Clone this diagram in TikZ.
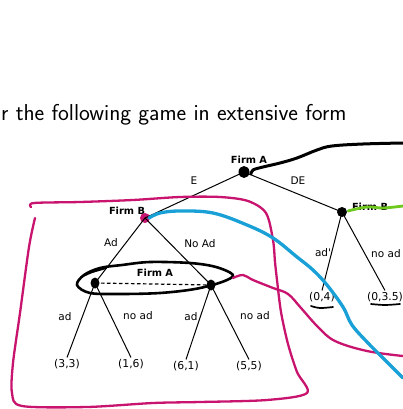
\documentclass[tikz,border=0pt]{standalone}
\usepackage{fontspec}
\usetikzlibrary{shapes.geometric}
\newfontfamily\lab{DejaVu Sans}
\definecolor{mag}{RGB}{200,20,110}
\definecolor{sky}{RGB}{25,160,215}
\definecolor{lime}{RGB}{110,200,30}
\begin{document}
\begin{tikzpicture}[x=1pt,y=-1pt,
  lbl/.style={font=\lab\fontsize{10.5}{12}\selectfont, inner sep=0pt},
  firm/.style={font=\lab\bfseries\fontsize{9.8}{12}\selectfont, inner sep=0pt},
  dot/.style={ellipse, fill=black, inner sep=0pt, minimum width=10pt, minimum height=10pt},
  leaf/.style={font=\lab\fontsize{10.8}{12}\selectfont, inner sep=1.5pt},
  br/.style={line width=1pt},
  hand/.style={line cap=round, line join=round}]
\useasboundingbox (0,0) rectangle (403,409);
\fill[white] (0,0) rectangle (403,409);
% title
\node[anchor=base west, inner sep=0pt, font=\sffamily\fontsize{23}{26}\selectfont] (title) at (1,121) {r the following game in extensive form};
% nodes
\node[dot, minimum width=11pt, minimum height=12pt] (rootA) at (244,172) {};
\node[dot, fill=mag] (B1) at (145,218) {};
\node[dot] (B2) at (342,212) {};
\node[dot, minimum width=9pt, minimum height=11pt] (A1) at (95,283) {};
\node[dot, minimum width=9pt, minimum height=11pt] (A2) at (211,285) {};
% leaves
\node[leaf] (l33) at (67,364) {(3,3)};
\node[leaf] (l16) at (131,364) {(1,6)};
\node[leaf] (l61) at (186,366) {(6,1)};
\node[leaf] (l55) at (249,366) {(5,5)};
\node[leaf] (l04) at (322,297) {(0,4)};
\node[leaf] (l035) at (385,297) {(0,3.5)};
% branches
\draw[br] (rootA.center) -- (B1.center);
\draw[br] (rootA.center) -- (B2.center);
\draw[br] (B1.center) -- (A1.center);
\draw[br] (B1.center) -- (A2.center);
\draw[br] (A1.center) -- (l33.north);
\draw[br] (A1.center) -- (l16.north);
\draw[br] (A2.center) -- (l61.north);
\draw[br] (A2.center) -- (l55.north);
\draw[br] (B2.center) -- (l04.north);
\draw[br] (B2.center) -- (l035.north);
\draw[line width=1.2pt, dash pattern=on 3.5pt off 2.5pt] (A1.center) -- (A2.center);
% labels
\node[firm] (fA) at (249,160) {Firm A};
\node[firm] (fB1) at (127,211) {Firm B};
\node[firm] (fB2) at (370,207) {Firm B};
\node[firm] (fA2) at (155,273) {Firm A};
\node[lbl] (tE) at (194,181) {E};
\node[lbl] (tDE) at (298,181) {DE};
\node[lbl] (tAd) at (111,243) {Ad};
\node[lbl] (tNoAd) at (200,244) {No Ad};
\node[lbl] (ta1) at (65,317) {ad};
\node[lbl] (tn1) at (138,316) {no ad};
\node[lbl] (ta2) at (191,317) {ad};
\node[lbl] (tn2) at (255,316) {no ad};
\node[lbl] (ta3) at (323,253) {ad'};
\node[lbl] (tn3) at (386,254) {no ad};
% hand-drawn strokes
\draw[hand, line width=3pt] plot[smooth, tension=0.6] coordinates {(251,174) (253,170) (263,167) (280,163) (297,158) (317,150) (332,146) (363,144) (403,143)};
\draw[hand, line width=2.8pt, lime] plot[smooth, tension=0.6] coordinates {(348,211) (367,207) (383,208) (403,206)};
\draw[hand, line width=2.6pt] plot[smooth cycle, tension=0.55] coordinates {(77,285) (84,275) (100,268) (122,265) (150,262) (190,263) (216,267) (233,275) (222,282) (195,289) (160,293) (120,294) (90,293)};
\draw[hand, line width=2.2pt] plot[smooth, tension=0.6] coordinates {(83,276) (92,272) (106,268)};
\draw[hand, line width=2.3pt, mag] plot[smooth, tension=0.5] coordinates {(31,207) (34,203) (80,202) (133,200) (180,197) (220,197) (248,201) (266,213) (273,240) (275,262) (277,280) (281,312) (288,344) (297,372) (307,393) (267,400) (200,402) (153,403) (87,407) (22,406) (12,393) (13,363) (20,313) (29,247) (35,218)};
\draw[hand, line width=2.3pt, mag] plot[smooth, tension=0.6] coordinates {(233,278) (243,275) (253,280) (273,288) (288,294) (301,308) (318,327) (335,341) (367,351) (403,356)};
\draw[hand, line width=3.3pt, sky] plot[smooth, tension=0.6] coordinates {(149,218) (160,213) (180,211) (213,213) (247,225) (273,238) (297,257) (313,270) (327,285) (343,307) (352,325) (368,343) (387,362) (403,378)};
% underlines
\draw[hand, line width=1.7pt] plot[smooth, tension=0.6] coordinates {(311,306) (320,308) (333,307)};
\draw[hand, line width=1.7pt] plot[smooth, tension=0.6] coordinates {(371,304) (385,305) (400,304)};
\end{tikzpicture}
\end{document}
